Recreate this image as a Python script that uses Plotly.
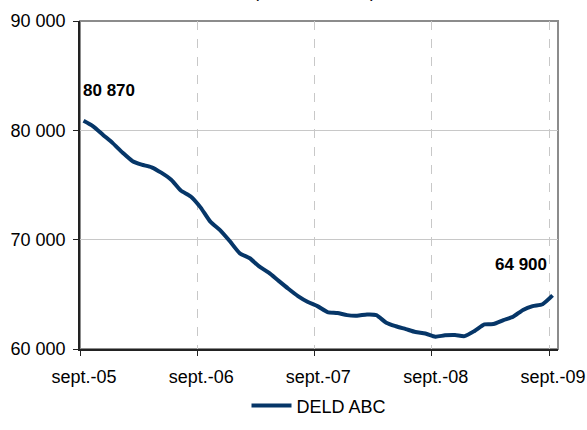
import plotly.graph_objects as go
import pandas as pd

# Monthly values, sept. 2005 -> sept. 2009
months = pd.date_range("2005-09-01", periods=49, freq="MS") + pd.Timedelta(days=11)
values = [80870, 80370, 79580, 78830, 77950, 77180, 76870, 76620, 76130, 75480,
          74500, 73950, 72930, 71650, 70850, 69850, 68750, 68300, 67580, 66980,
          66250, 65510, 64840, 64300, 63900, 63380, 63300, 63100, 63050, 63150,
          63100, 62400, 62080, 61820, 61550, 61420, 61130, 61250, 61280, 61180,
          61650, 62250, 62280, 62640, 62950, 63570, 63920, 64100, 64900]
series_name = "DELD ABC"
tick_dates = ["2005-09-01", "2006-09-01", "2007-09-01", "2008-09-01", "2009-09-01"]
tick_labels = ["sept.-05", "sept.-06", "sept.-07", "sept.-08", "sept.-09"]
y_ticks = [60000, 70000, 80000, 90000]
title_text = "(données CVS)"

FONT = "Liberation Sans, Arial, sans-serif"
FS = 18
fig = go.Figure()
fig.add_trace(go.Scatter(x=months, y=values, mode="lines", name=series_name,
                         line=dict(color="#063668", width=4, shape="spline", smoothing=0.6)))

def fmt(v):
    return f"{v:,}".replace(",", " ")

fig.add_annotation(x=months[0], y=values[0], text="<b>%s</b>" % fmt(values[0]),
                   showarrow=False, xanchor="left", yanchor="middle", xshift=-3, yshift=30,
                   font=dict(family=FONT, size=FS - 1, color="black"))
fig.add_annotation(x=months[-1], y=values[-1], text="<b>%s</b>" % fmt(values[-1]),
                   showarrow=False, xanchor="right", yanchor="middle", xshift=-4, yshift=31,
                   font=dict(family=FONT, size=FS - 1, color="black"))
fig.add_annotation(x=0.49, y=1.055, xref="paper", yref="paper", text=title_text,
                   showarrow=False, xanchor="center", yanchor="bottom",
                   font=dict(family=FONT, size=FS, color="black"))

fig.add_shape(type="rect", xref="paper", yref="paper", x0=0, y0=0, x1=1, y1=1,
              line=dict(color="#8c8c8c", width=2), layer="below")

fig.update_layout(
    width=587, height=430,
    margin=dict(l=80, r=29, t=21, b=81, autoexpand=False),
    paper_bgcolor="white", plot_bgcolor="white",
    separators=", ",
    font=dict(family=FONT, size=FS, color="black"),
    showlegend=True,
    legend=dict(orientation="h", x=0.5, xanchor="center", xref="paper",
                y=0.056, yanchor="middle", yref="container",
                bgcolor="rgba(0,0,0,0)",
                font=dict(family=FONT, size=FS, color="black"), itemwidth=40),
    xaxis=dict(type="date", range=["2005-09-01", "2009-09-29"],
               tickvals=tick_dates, ticktext=tick_labels, automargin=False,
               showgrid=True, gridcolor="#c8c8c8", griddash="dash", gridwidth=1,
               showline=True, linecolor="#222222", linewidth=1.5,
               ticks="outside", ticklen=5, tickcolor="#222222",
               ticklabelstandoff=6, ticklabelshift=4, ticklabeloverflow="allow",
               zeroline=False, tickfont=dict(family=FONT, size=FS)),
    yaxis=dict(range=[60000, 90000], tickvals=y_ticks, tickformat=",d", automargin=False,
               showgrid=True, gridcolor="#c8c8c8", gridwidth=1,
               showline=True, linecolor="#222222", linewidth=1.5,
               ticks="outside", ticklen=5, tickcolor="#222222",
               ticklabelstandoff=4, zeroline=False,
               tickfont=dict(family=FONT, size=FS)),
)

fig.write_html("out.html", config={"displayModeBar": False},
               post_script="document.body.style.margin='0';document.body.style.overflow='hidden';")
